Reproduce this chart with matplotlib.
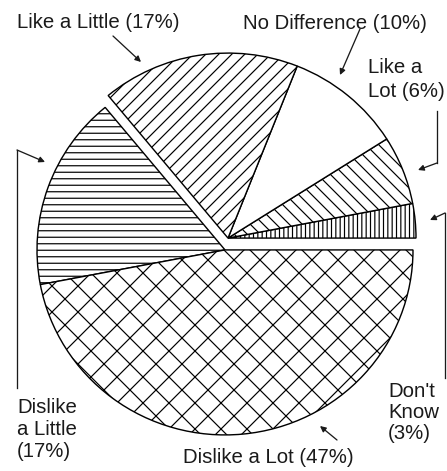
import matplotlib
matplotlib.use('Agg')
import matplotlib.pyplot as plt
from matplotlib.lines import Line2D
import numpy as np

# survey answers, counter-clockwise from 3 o'clock
upper_labels = ["Don't Know", 'Like a Lot', 'No Difference', 'Like a Little']
upper_values = [0.03, 0.06, 0.10, 0.17]
lower_labels = ['Dislike a Little', 'Dislike a Lot']
lower_values = [0.17, 0.47]

upper_hatch = ['|||', '\\\\', '', '//']
lower_hatch = ['--', 'x']

W, H, DPI = 447, 471, 78
plt.rcParams['font.family'] = ['Liberation Sans', 'DejaVu Sans']
plt.rcParams['hatch.linewidth'] = 1.1

fig = plt.figure(figsize=(W / DPI, H / DPI), dpi=DPI)
ax = fig.add_axes([0, 0, 1, 1])

# the two halves are pulled apart along this direction
ang = np.deg2rad(76)
d = 0.033
wp = dict(edgecolor='black', linewidth=1.3)

ax.pie(upper_values, colors=['white'] * 4, hatch=upper_hatch,
       startangle=0, counterclock=True, normalize=False,
       center=(d * np.cos(ang), d * np.sin(ang)), wedgeprops=wp)
ax.pie(lower_values, colors=['white'] * 2, hatch=lower_hatch,
       startangle=360 * sum(upper_values), counterclock=True, normalize=False,
       center=(-d * np.cos(ang), -d * np.sin(ang)), wedgeprops=wp)

ax.set_aspect('auto')
ax.set_xlim(-226.5 / 188, 220.5 / 188)
ax.set_ylim(-227 / 185, 244 / 185)
ax.axis('off')


def fp(x, y):
    # pixel position from top-left -> figure fraction
    return (x / W, 1 - y / H)


fs = 18.8
tc = '#1a1a1a'
fig.text(*fp(17, 28), 'Like a Little (17%)', fontsize=fs, color=tc, va='baseline')
fig.text(*fp(243, 29), 'No Difference (10%)', fontsize=fs, color=tc, va='baseline')
fig.text(*fp(368, 73), 'Like a', fontsize=fs, color=tc, va='baseline')
fig.text(*fp(368, 97), 'Lot (6%)', fontsize=fs, color=tc, va='baseline')
fig.text(*fp(388, 397), "Don't", fontsize=fs, color=tc, va='baseline')
fig.text(*fp(388, 418), 'Know', fontsize=fs, color=tc, va='baseline')
fig.text(*fp(388, 439), '(3%)', fontsize=fs, color=tc, va='baseline')
fig.text(*fp(17, 413), 'Dislike', fontsize=fs, color=tc, va='baseline')
fig.text(*fp(17, 435), 'a Little', fontsize=fs, color=tc, va='baseline')
fig.text(*fp(17, 457), '(17%)', fontsize=fs, color=tc, va='baseline')
fig.text(*fp(183, 463), 'Dislike a Lot (47%)', fontsize=fs, color=tc, va='baseline')

arrow = dict(arrowstyle='-|>', color=tc, lw=1.2, mutation_scale=11,
             shrinkA=0, shrinkB=0)


def pointer(path, head):
    if len(path) > 1:
        xs, ys = zip(*[fp(*p) for p in path])
        fig.add_artist(Line2D(xs, ys, transform=fig.transFigure, color=tc, lw=1.2))
    ax.annotate('', xy=fp(*head), xycoords='figure fraction',
                xytext=fp(*path[-1]), textcoords='figure fraction',
                arrowprops=arrow)


pointer([(113, 36)], (141, 62))
pointer([(360, 29)], (340, 75))
pointer([(437, 111), (437, 163)], (418, 170))
pointer([(445, 378), (445, 213)], (430, 220))
pointer([(17, 388), (17, 150)], (45, 162))
pointer([(337, 440)], (320, 426))

fig.savefig('out.png', dpi=DPI, facecolor='white')
